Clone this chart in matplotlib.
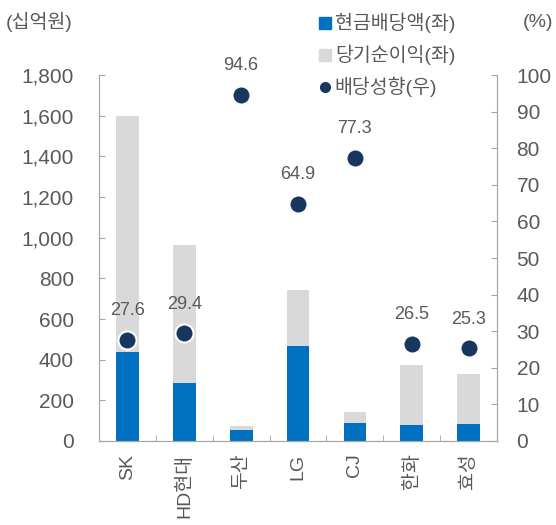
import matplotlib
matplotlib.use("Agg")
import matplotlib.pyplot as plt
from matplotlib.lines import Line2D
import numpy as np

plt.rcParams["font.family"] = ["Liberation Sans", "Noto Sans CJK KR", "DejaVu Sans"]

companies = ["SK", "HD현대", "두산", "LG", "CJ", "한화", "효성"]
dividends = [437, 285, 54, 468, 88, 77, 83]
net_income = [1597, 965, 75, 742, 142, 372, 331]
payout_ratio = [27.6, 29.4, 94.6, 64.9, 77.3, 26.5, 25.3]

BLUE = "#0070C0"
GRAY = "#D9D9D9"
NAVY = "#17375E"
TEXT = "#595959"
SPINE = "#A6A6A6"

fig = plt.figure(figsize=(5.56, 5.25), dpi=100)
ax = fig.add_axes([0.178, 0.16, 0.716, 0.697])
ax2 = ax.twinx()

x = np.arange(len(companies))
ax.bar(x, net_income, width=0.4, color=GRAY, zorder=1)
ax.bar(x, dividends, width=0.4, color=BLUE, zorder=2)

ax2.scatter(x, payout_ratio, s=170, color=NAVY, edgecolor="white", linewidth=1.5,
            zorder=5, clip_on=False)
for xi, v in zip(x, payout_ratio):
    ax2.annotate(f"{v:.1f}", (xi, v), xytext=(0, 15), textcoords="offset points",
                 ha="center", va="bottom", fontsize=13, color=TEXT, annotation_clip=False)

ax.set_xlim(-0.5, len(companies) - 0.5)
ax.set_ylim(0, 1800)
ax2.set_ylim(0, 100)
ax.set_yticks(np.arange(0, 1801, 200))
ax.set_yticklabels([f"{v:,}" for v in range(0, 1801, 200)])
ax2.set_yticks(np.arange(0, 101, 10))

ax.set_xticks(x)
ax.set_xticklabels(companies, rotation=90, fontsize=14, color=TEXT)
ax.set_xticks(np.arange(0.5, len(companies) - 1, 1), minor=True)
ax.tick_params(axis="x", which="major", length=0, pad=9)
ax.tick_params(axis="x", which="minor", direction="in", length=4, color=SPINE)
ax.tick_params(axis="y", direction="in", length=4, color=SPINE, labelsize=15,
               labelcolor=TEXT, pad=18)
ax2.tick_params(axis="y", direction="in", length=4, color=SPINE, labelsize=15,
                labelcolor=TEXT, pad=14)

for a in (ax, ax2):
    a.spines["top"].set_visible(False)
    for s in ("left", "right", "bottom"):
        a.spines[s].set_color(SPINE)

fig.text(0.01, 0.958, "(십억원)", fontsize=14, color=TEXT, ha="left", va="center")
fig.text(0.995, 0.958, "(%)", fontsize=14, color=TEXT, ha="right", va="center")

handles = [
    Line2D([], [], marker="s", linestyle="", color=BLUE, markersize=9),
    Line2D([], [], marker="s", linestyle="", color=GRAY, markersize=9),
    Line2D([], [], marker="o", linestyle="", color=NAVY, markersize=7),
]
labels = ["현금배당액(좌)", "당기순이익(좌)", "배당성향(우)"]
fig.legend(handles, labels, loc="upper left", bbox_to_anchor=(0.555, 0.99), frameon=False,
           fontsize=14, labelcolor=TEXT, handletextpad=0.05, handlelength=0.9,
           labelspacing=0.6, borderaxespad=0)

fig.savefig("out.png", dpi=100)
